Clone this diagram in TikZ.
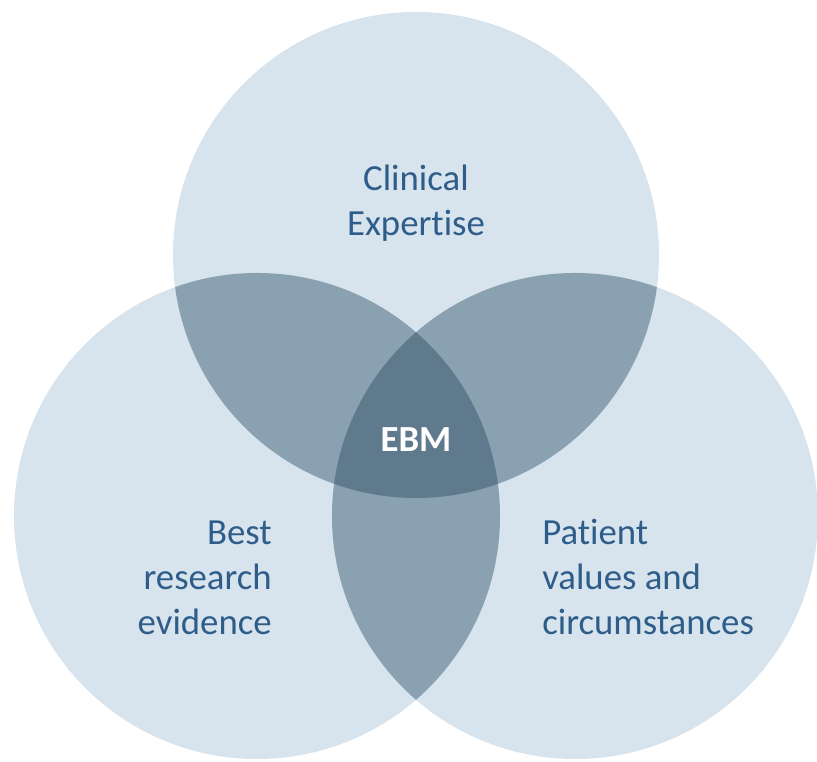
\documentclass[tikz,border=0pt]{standalone}
\usepackage{fontspec}
\setmainfont[Ligatures=NoCommon]{Carlito}
\definecolor{vennlight}{HTML}{D7E3ED}
\definecolor{vennmid}{HTML}{8AA1B1}
\definecolor{venndark}{HTML}{5F798D}
\definecolor{venntext}{HTML}{2E5D8A}
\begin{document}
\begin{tikzpicture}[x=0.75pt,y=0.75pt,
  label text/.style={font=\fontsize{27.6}{33.75}\selectfont, text=venntext, inner sep=0pt}]
  \useasboundingbox (0,0) rectangle (817,762);
  \def\rad{243}
  \coordinate (clin) at (416,507);
  \coordinate (best) at (257,246);
  \coordinate (pat) at (575,246);

  % the three sets
  \foreach \c in {clin,best,pat}
    \fill[vennlight] (\c) circle [radius=\rad];

  % pairwise overlaps
  \begin{scope}
    \clip (clin) circle [radius=\rad];
    \fill[vennmid] (best) circle [radius=\rad];
    \fill[vennmid] (pat) circle [radius=\rad];
  \end{scope}
  \begin{scope}
    \clip (best) circle [radius=\rad];
    \fill[vennmid] (pat) circle [radius=\rad];
  \end{scope}

  % all three
  \begin{scope}
    \clip (clin) circle [radius=\rad];
    \clip (best) circle [radius=\rad];
    \fill[venndark] (pat) circle [radius=\rad];
  \end{scope}

  \node[label text, align=center, anchor=base] (clinical) at (416,526) {Clinical\\Expertise};
  \node[label text, align=right, anchor=base east] (research) at (272,127) {Best\\research\\evidence};
  \node[label text, align=left, anchor=base west] (patient) at (542,127) {Patient\\values and\\circumstances};
  \node[label text, text=white, font=\fontsize{27.6}{33.75}\selectfont\bfseries, anchor=base] (ebm) at (416,310) {EBM};
\end{tikzpicture}
\end{document}
